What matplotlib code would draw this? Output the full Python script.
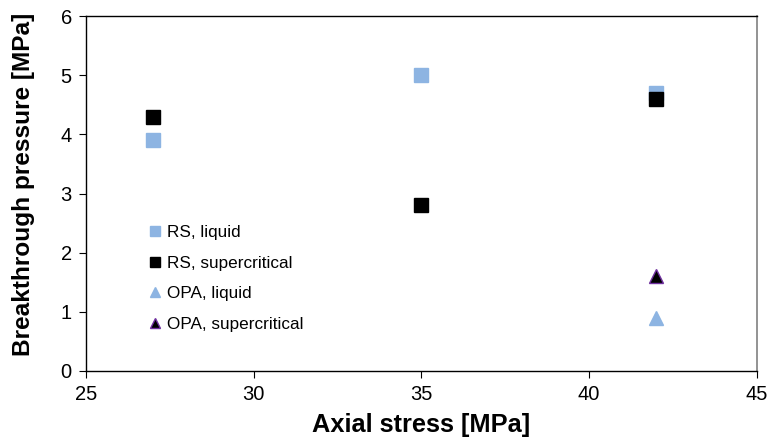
import matplotlib.pyplot as plt

# values
rs_liquid_x = [27, 35, 42]
rs_liquid_y = [3.9, 5.0, 4.7]
rs_super_x = [27, 35, 42]
rs_super_y = [4.3, 2.8, 4.6]
opa_liquid_x = [42]
opa_liquid_y = [0.9]
opa_super_x = [42]
opa_super_y = [1.6]

plt.rcParams['font.family'] = ['Liberation Sans', 'DejaVu Sans']

fig = plt.figure(figsize=(7.69, 4.41), dpi=100)
ax = fig.add_axes([85.7 / 769, 1 - 371 / 441, (757 - 85.7) / 769, (371 - 16) / 441])

light_blue = "#8DB4E2"
ax.plot(rs_liquid_x, rs_liquid_y, "s", color=light_blue, markersize=9.5, linestyle="none", label="RS, liquid")
ax.plot(rs_super_x, rs_super_y, "s", color="black", markersize=9.5, linestyle="none", label="RS, supercritical")
ax.plot(opa_liquid_x, opa_liquid_y, "^", color=light_blue, markersize=10, linestyle="none", label="OPA, liquid")
ax.plot(opa_super_x, opa_super_y, "^", color="black", markeredgecolor="#7030A0", markeredgewidth=1.0,
        markersize=9.5, linestyle="none", label="OPA, supercritical")

ax.set_xlim(25, 45)
ax.set_ylim(0, 6)
ax.set_xticks([25, 30, 35, 40, 45])
ax.set_yticks([0, 1, 2, 3, 4, 5, 6])
ax.tick_params(labelsize=14.5, length=5, width=0.8, direction="out")
ax.tick_params(axis="x", pad=5)
ax.tick_params(axis="y", pad=5)

ax.spines["right"].set_color("#808080")
ax.spines["right"].set_linewidth(1.2)
for s in ["left", "bottom", "top"]:
    ax.spines[s].set_linewidth(1.0)

ax.set_xlabel("Axial stress [MPa]", fontsize=18.3, fontweight="bold", labelpad=6.5)
ax.set_ylabel("Breakthrough pressure [MPa]", fontsize=17.6, fontweight="bold")
ax.yaxis.set_label_coords(-0.076, 0.527)

ax.legend(loc="upper left", bbox_to_anchor=(0.091, 0.41), frameon=False, fontsize=12.3,
          handletextpad=0.2, labelspacing=0.9, handlelength=1.0, markerscale=0.75,
          borderaxespad=0, borderpad=0)

fig.savefig("out.png", dpi=100)
